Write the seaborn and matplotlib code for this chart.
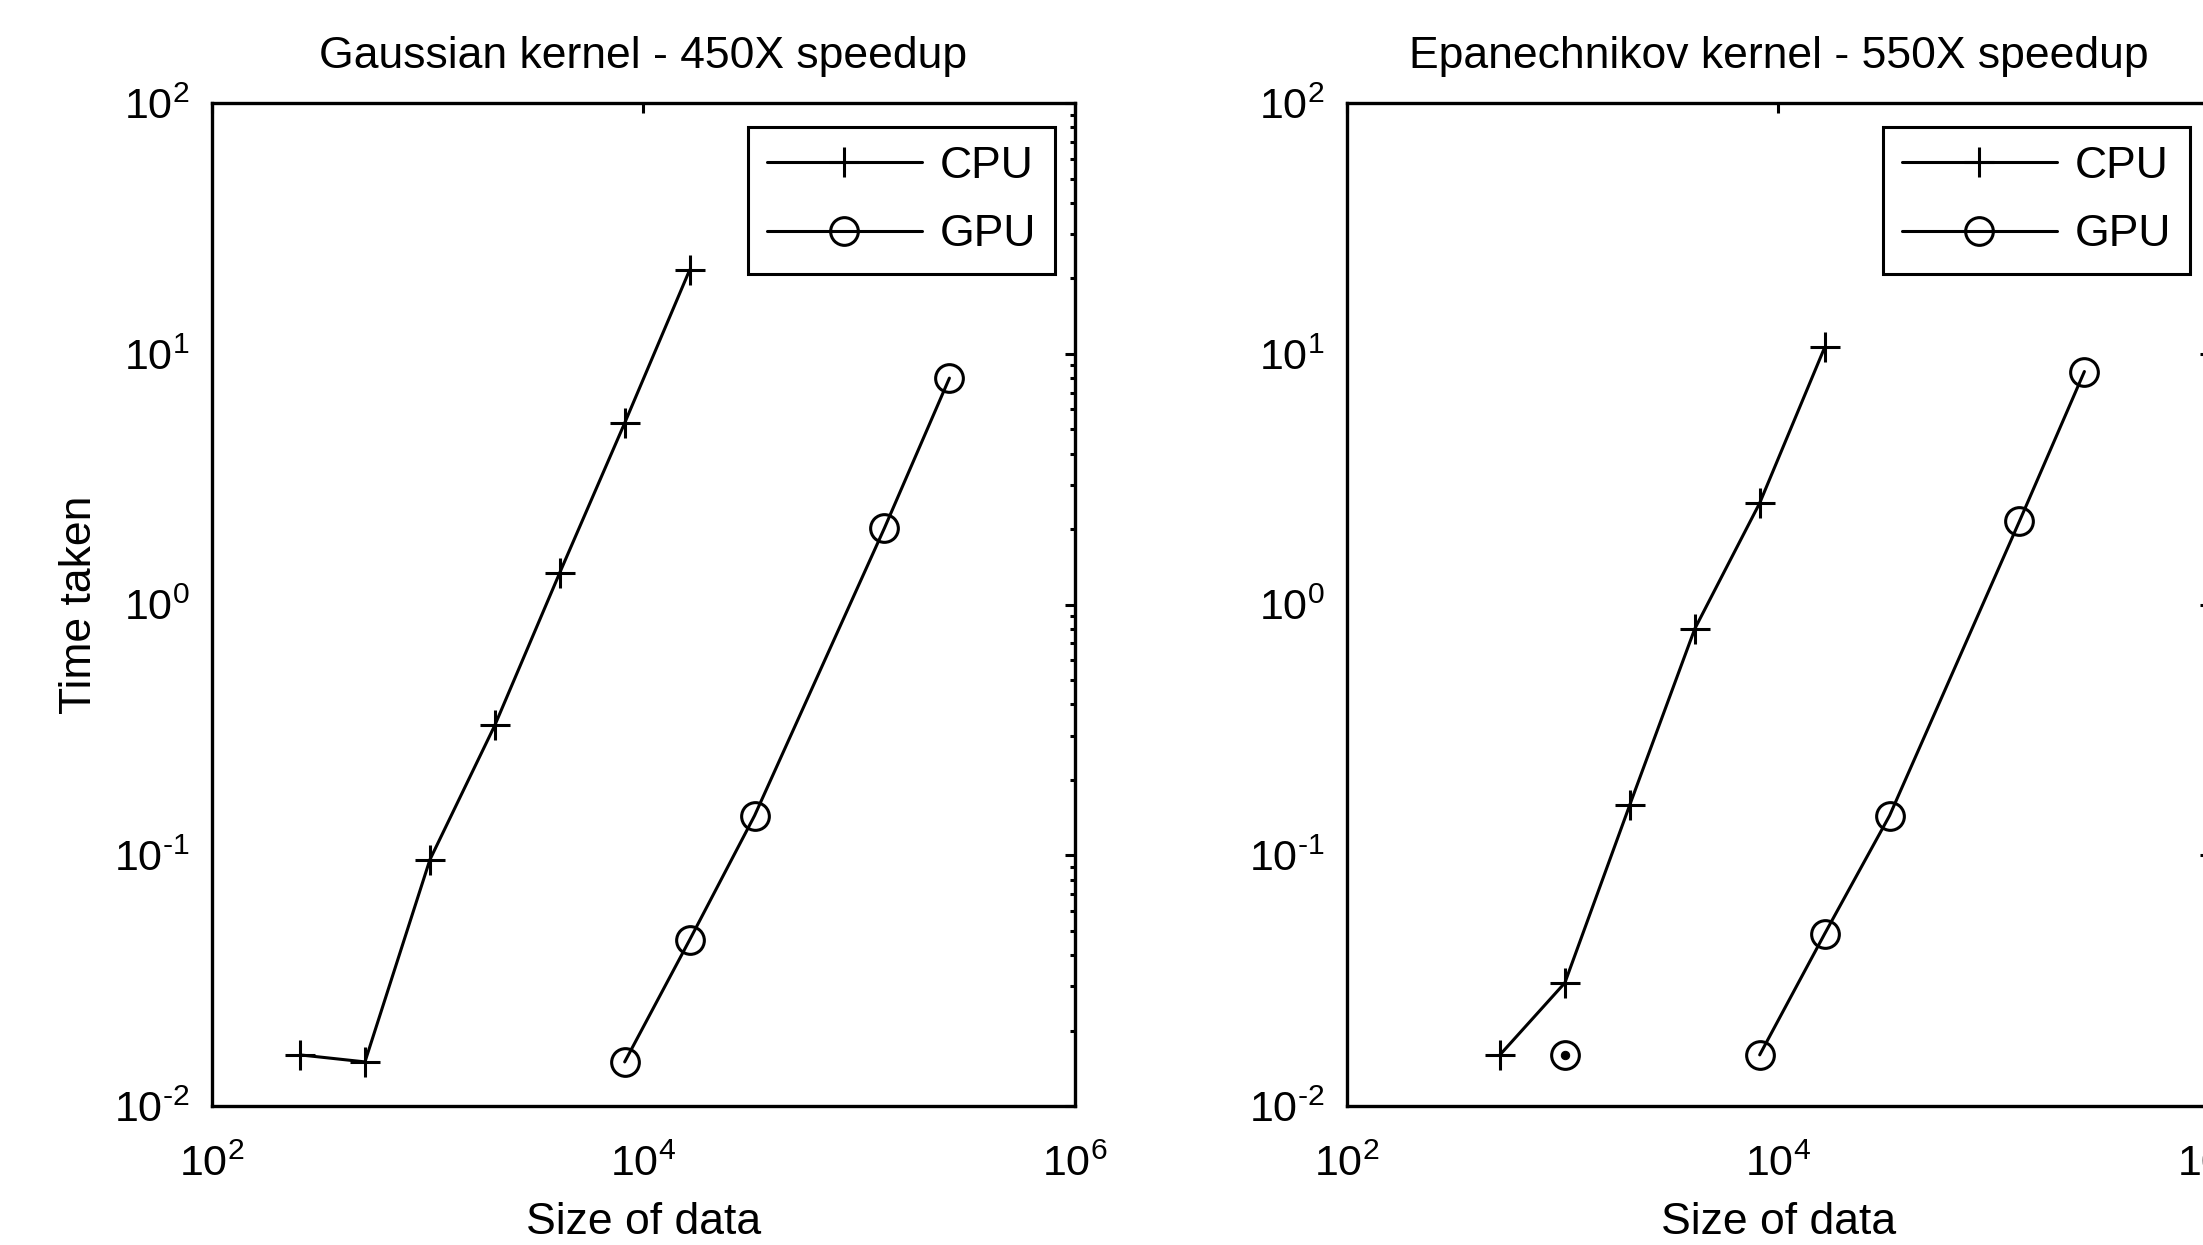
import matplotlib
matplotlib.use("Agg")
import matplotlib.pyplot as plt
import seaborn as sns
import numpy as np
from matplotlib.ticker import LogLocator, NullLocator, FuncFormatter

# data (log-log, size of data vs time taken)
gauss_cpu_x = [256, 512, 1024, 2048, 4096, 8192, 16384]
gauss_cpu_y = [0.016, 0.015, 0.096, 0.33, 1.34, 5.3, 21.6]
gauss_gpu_x = [8192, 16384, 32768, 131072, 262144]
gauss_gpu_y = [0.015, 0.046, 0.144, 2.02, 8.0]

epan_cpu_x = [512, 1024, 2048, 4096, 8192, 16384]
epan_cpu_y = [0.016, 0.031, 0.159, 0.80, 2.54, 10.6]
epan_gpu_x = [8192, 16384, 32768, 131072, 262144]
epan_gpu_y = [0.016, 0.0486, 0.144, 2.15, 8.5]
# lone gpu point (circle with a dot) on the right panel
epan_gpu_lone_x = [1024]
epan_gpu_lone_y = [0.016]

titles = ["Gaussian kernel - 450X speedup", "Epanechnikov kernel - 550X speedup"]

sns.set_style("white")
plt.rcParams["font.family"] = ["Liberation Sans", "DejaVu Sans"]
plt.rcParams["mathtext.fontset"] = "custom"
plt.rcParams["mathtext.rm"] = "Liberation Sans"
plt.rcParams["mathtext.it"] = "Liberation Sans"
plt.rcParams["mathtext.bf"] = "Liberation Sans"
plt.rcParams["axes.unicode_minus"] = False
plt.rcParams["font.size"] = 31
for k in ["text.color", "axes.labelcolor", "xtick.color", "ytick.color", "axes.edgecolor"]:
    plt.rcParams[k] = "k"


def pow10(v, pos):
    e = int(round(np.log10(v)))
    es = str(e).replace("-", "\u2010")  # matlab style hyphen, not a minus
    return r"$\mathregular{10^{%s}}$" % es


fig = plt.figure(figsize=(22.03, 12.45), dpi=100)
ax1 = fig.add_axes([0.0962, 0.1116, 0.3917, 0.8056])
ax2 = fig.add_axes([0.6114, 0.1116, 0.3917, 0.8056])

lw = 2.2
ms = 21
cpu_kw = dict(color="k", marker="+", markersize=ms, markeredgewidth=2.2,
              markeredgecolor="k", linewidth=lw)
gpu_kw = dict(color="k", marker="o", markersize=ms * 0.95, markeredgewidth=2.2,
              markeredgecolor="k", markerfacecolor="none", linewidth=lw)

sns.lineplot(x=gauss_cpu_x, y=gauss_cpu_y, ax=ax1, label="CPU", **cpu_kw)
sns.lineplot(x=gauss_gpu_x, y=gauss_gpu_y, ax=ax1, label="GPU", **gpu_kw)

sns.lineplot(x=epan_cpu_x, y=epan_cpu_y, ax=ax2, label="CPU", **cpu_kw)
sns.lineplot(x=epan_gpu_x, y=epan_gpu_y, ax=ax2, label="GPU", **gpu_kw)
sns.lineplot(x=epan_gpu_lone_x, y=epan_gpu_lone_y, ax=ax2, legend=False, **gpu_kw)
sns.lineplot(x=epan_gpu_lone_x, y=epan_gpu_lone_y, ax=ax2, legend=False,
             color="k", marker=".", markersize=12, markeredgecolor="k", linewidth=0)

for i, ax in enumerate([ax1, ax2]):
    ax.set_xscale("log")
    ax.set_yscale("log")
    ax.set_xlim(1e2, 1e6)
    ax.set_ylim(1e-2, 1e2)
    ax.set_xticks([1e2, 1e4, 1e6])
    ax.xaxis.set_minor_locator(NullLocator())
    ax.yaxis.set_major_locator(LogLocator(base=10, numticks=10))
    ax.yaxis.set_minor_locator(LogLocator(base=10, subs=range(2, 10), numticks=20))
    ax.xaxis.set_major_formatter(FuncFormatter(pow10))
    ax.yaxis.set_major_formatter(FuncFormatter(pow10))
    ax.tick_params(which="both", direction="in", top=True, right=True,
                   colors="k", labelsize=31, width=2.2)
    ax.tick_params(which="major", length=7.5)
    ax.tick_params(which="minor", length=3.8)
    ax.tick_params(axis="x", which="major", pad=28)
    ax.tick_params(axis="y", which="major", pad=16)
    for s in ax.spines.values():
        s.set_color("k")
        s.set_linewidth(2.4)
    ax.set_title(titles[i], fontsize=32, pad=25, color="k")
    ax.set_xlabel("Size of data", fontsize=32, labelpad=12, color="k")
    leg = ax.legend(loc="upper right", bbox_to_anchor=(0.977, 0.976),
                    borderaxespad=0, fontsize=32, handlelength=3.5,
                    handletextpad=0.4, labelspacing=0.62, borderpad=0.42,
                    fancybox=False, framealpha=1, edgecolor="k")
    leg.get_frame().set_linewidth(2.2)
    for t in leg.get_texts():
        t.set_color("k")

ax1.set_ylabel("Time taken", fontsize=32, labelpad=10, color="k")

fig.savefig("out.png", dpi=100)
